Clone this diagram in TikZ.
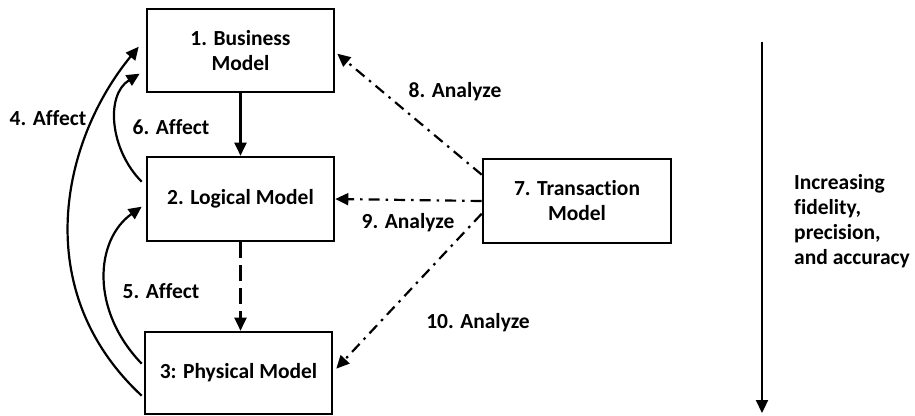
\documentclass[tikz,border=0pt]{standalone}
\usepackage{fontspec}
\setmainfont{Carlito}[Ligatures=NoCommon]
\usetikzlibrary{arrows.meta,calc}
\begin{document}
\begin{tikzpicture}[x=1pt,y=-1pt,
  every node/.style={font=\bfseries\fontsize{21.5}{25}\selectfont},
  box/.style={draw,line width=2.6pt,inner sep=0pt,align=center},
  arr/.style={line width=2.2pt,-{Triangle[length=13pt,width=12pt]}},
  dashdot/.style={dash pattern=on 11pt off 6pt on 2.5pt off 6pt},
  lbl/.style={inner sep=0pt}]
\useasboundingbox (0,0) rectangle (915,415);
\node[box,minimum width=187pt,minimum height=83pt] (b1) at (240.5,50.5) {1. Business\\Model};
\node[box,minimum width=187pt,minimum height=84pt] (b2) at (240.5,199) {2. Logical Model};
\node[box,minimum width=187pt,minimum height=82pt] (b3) at (238.5,373) {3: Physical Model};
\node[box,minimum width=188pt,minimum height=84pt] (b7) at (577,201) {7. Transaction\\Model};

\draw[arr] (b1.south) -- (b1.south |- b2.north);
\draw[arr,dash pattern=on 16pt off 7pt] (b2.south) -- (b2.south |- b3.north);

\draw[arr] ($(b2.north west)+(-4,26)$) .. controls (110,150) and (105,95) .. ($(b1.north west)+(-6,66)$);
\draw[arr] ($(b3.north west)+(-2,65)$) .. controls (28,290) and (62,140) .. ($(b1.north west)+(-7,39)$);
\draw[arr] ($(b3.north west)+(-2,33)$) .. controls (90,310) and (95,240) .. ($(b2.north west)+(-4,51)$);

\draw[arr,dashdot] ($(b7.north west)+(0,17)$) -- ($(b1.north east)+(2,46)$);
\draw[arr,dashdot] (b7.west) -- (b2.east);
\draw[arr,dashdot] ($(b7.north west)+(0,56)$) -- ($(b3.north east)+(3,38)$);

\node[lbl] (l4) at (48,118) {4. Affect};
\node[lbl] (l6) at (171,127) {6. Affect};
\node[lbl] (l5) at (161,291) {5. Affect};
\node[lbl] (l8) at (455,92) {8. Analyze};
\node[lbl] (l9) at (408,223) {9. Analyze};
\node[lbl] (l10) at (478,323) {10. Analyze};

\coordinate (atop) at (762,42);
\coordinate (abot) at (762,413);
\draw[arr] (atop) -- (abot);
\node[lbl,anchor=west,align=left] (inc) at (794,221) {Increasing\\fidelity,\\precision,\\and accuracy};
\end{tikzpicture}
\end{document}
